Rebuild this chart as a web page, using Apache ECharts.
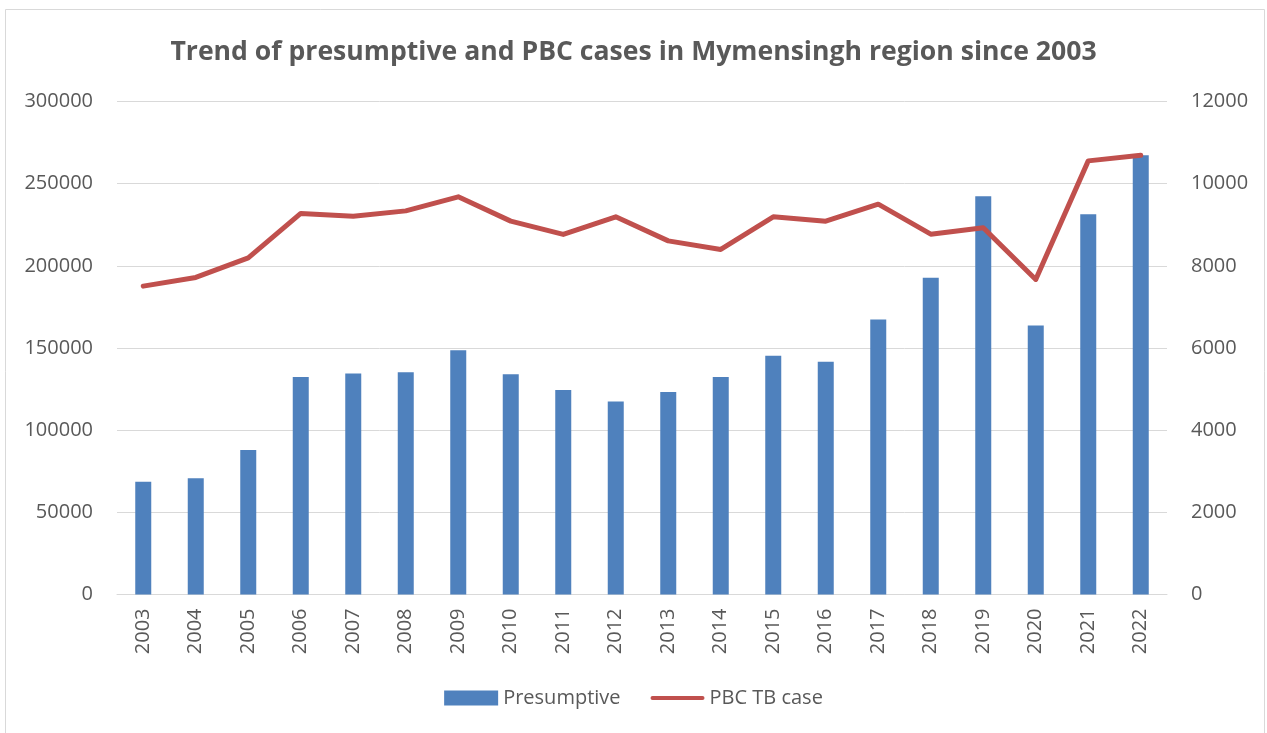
<!DOCTYPE html>
<html>
<head>
    <meta charset="utf-8" />
    <title>Presumptive and PBC cases - Mymensingh</title>
    <script src="https://cdn.jsdelivr.net/npm/echarts@6/dist/echarts.min.js"></script>
    <style>
        html, body { margin: 0; padding: 0; background: #fff; }
        #chart { width: 1267px; height: 733px; }
    </style>
</head>
<body>
    <div id="chart"></div>
    <script type="text/javascript">

        var years = ['2003', '2004', '2005', '2006', '2007', '2008', '2009', '2010', '2011', '2012',
                     '2013', '2014', '2015', '2016', '2017', '2018', '2019', '2020', '2021', '2022'];

        var presumptive = [68600, 70700, 87900, 132300, 134500, 135300, 148700, 134100, 124400, 117500,
                           123200, 132300, 145300, 141600, 167400, 192700, 242400, 163700, 231400, 267300];

        var pbcCases = [7506, 7718, 8195, 9275, 9209, 9338, 9679, 9088, 8764, 9193,
                        8608, 8399, 9193, 9088, 9501, 8771, 8925, 7669, 10555, 10693];

        var textColor = '#595959';
        var font = '"Open Sans", sans-serif';

        var chart = echarts.init(document.getElementById('chart'));

        var option = {
            animation: false,
            backgroundColor: '#fff',
            textStyle: { fontFamily: font },
            graphic: [{
                type: 'rect',
                shape: { x: 5.5, y: 9.5, width: 1259, height: 740 },
                style: { fill: 'none', stroke: '#d9d9d9', lineWidth: 1 }
            }],
            title: {
                text: 'Trend of presumptive and PBC cases in Mymensingh region since 2003',
                left: 'center',
                top: 34,
                textStyle: {
                    fontFamily: font,
                    fontSize: 26.6,
                    fontWeight: 'bold',
                    color: textColor
                }
            },
            legend: {
                bottom: 20,
                left: 'center',
                itemGap: 30,
                itemWidth: 54,
                itemHeight: 15,
                textStyle: { fontFamily: font, fontSize: 20, color: textColor },
                data: [
                    { name: 'Presumptive', icon: 'rect' },
                    { name: 'PBC TB case', icon: 'path://M2,0 L52,0 A2,2 0 0 1 52,4 L2,4 A2,2 0 0 1 2,0 Z' }
                ]
            },
            grid: {
                left: 117,
                right: 100,
                top: 101.5,
                bottom: 138.5,
                containLabel: false
            },
            xAxis: {
                type: 'category',
                data: years,
                axisLine: { lineStyle: { color: '#d9d9d9', width: 1 } },
                axisTick: { show: false },
                axisLabel: {
                    rotate: 90,
                    interval: 0,
                    fontSize: 20,
                    color: textColor,
                    margin: 14
                }
            },
            yAxis: [{
                type: 'value',
                min: 0,
                max: 300000,
                interval: 50000,
                axisLine: { show: false },
                axisTick: { show: false },
                splitLine: { lineStyle: { color: '#d9d9d9', width: 1 } },
                axisLabel: {
                    fontSize: 20,
                    color: textColor,
                    margin: 24,
                    formatter: function (v) { return String(v); }
                }
            }, {
                type: 'value',
                min: 0,
                max: 12000,
                interval: 2000,
                axisLine: { show: false },
                axisTick: { show: false },
                splitLine: { show: false },
                axisLabel: {
                    fontSize: 20,
                    color: textColor,
                    margin: 24,
                    formatter: function (v) { return String(v); }
                }
            }],
            series: [{
                name: 'Presumptive',
                type: 'bar',
                data: presumptive,
                barWidth: 16,
                itemStyle: { color: '#4F81BD' }
            }, {
                name: 'PBC TB case',
                type: 'line',
                yAxisIndex: 1,
                data: pbcCases,
                showSymbol: false,
                symbol: 'none',
                lineStyle: { color: '#C0504D', width: 5, cap: 'round', join: 'round' },
                itemStyle: { color: '#C0504D' }
            }]
        };

        chart.setOption(option);
    </script>
</body>
</html>
